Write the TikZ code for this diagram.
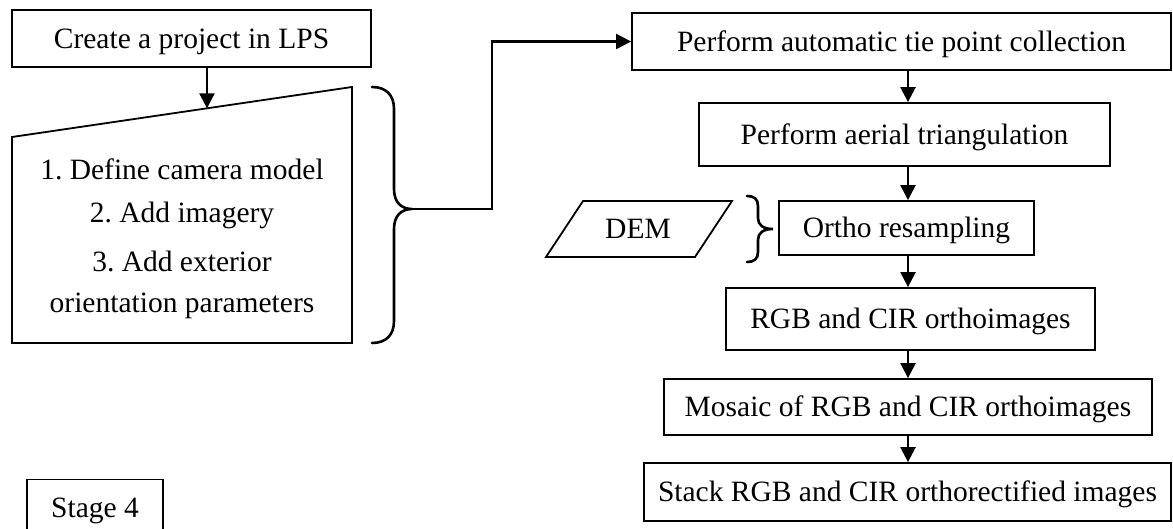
\documentclass[tikz,border=0pt]{standalone}
\usepackage{fontspec}
\setmainfont{Liberation Serif}
\usetikzlibrary{arrows.meta,calc}
\frenchspacing

\tikzset{
  every node/.style={font=\fontsize{29.5bp}{34bp}\selectfont},
  stepbox/.style={draw, line width=1.8bp, rectangle, inner sep=0pt,
                  text height=19.5bp, text depth=0pt, align=center},
  outline/.style={draw, line width=1.8bp, line join=miter},
  bracket/.style={draw, line width=2.6bp, line cap=round},
  arr/.style={line width=2.4bp, -{Triangle[length=15bp,width=15bp]}},
  label/.style={inner sep=0pt, anchor=base}
}

\begin{document}
\begin{tikzpicture}[x=1bp, y=-1bp]
  \useasboundingbox (0,0) rectangle (1173,529);
  \fill[white] (0,0) rectangle (1173,529);
  \clip (0,0) rectangle (1173,529);

  % --- left column: project set-up ---
  \node[stepbox, minimum width=359bp, minimum height=57bp] (create) at (191.5,38.5) {Create a project in LPS};

  % manual input block (slanted top)
  \coordinate (mi-tl) at (12,137);
  \coordinate (mi-tr) at (352,87);
  \coordinate (mi-br) at (352,343);
  \coordinate (mi-bl) at (12,343);
  \draw[outline] (mi-tl) -- (mi-tr) -- (mi-br) -- (mi-bl) -- cycle;
  \coordinate (mi-in) at ($(mi-tl)!0.5735!(mi-tr)$);

  \node[label] (s1) at (182,180) {1. Define camera model};
  \node[label] (s2) at (182,223) {2. Add imagery};
  \node[label] (s3) at (182,272) {3. Add exterior};
  \node[label] (s4) at (182,313) {orientation parameters};

  \draw[arr] (create.south -| mi-in) -- (mi-in);

  % large right brace
  \coordinate (btip) at (412,209);
  \draw[bracket] (372,87) .. controls (386,87) and (394,95) .. (394,109)
    -- (394,189) .. controls (394,202) and (401,209) .. (btip)
    .. controls (401,209) and (394,216) .. (394,229)
    -- (394,321) .. controls (394,335) and (386,343) .. (372,343);

  % --- right column: processing chain ---
  \node[stepbox, minimum width=539bp, minimum height=57bp] (tie) at (901.5,41.5) {Perform automatic tie point collection};
  \node[stepbox, minimum width=411bp, minimum height=63bp] (aerial) at (904.5,134.5) {Perform aerial triangulation};
  \node[stepbox, minimum width=255bp, minimum height=54bp] (ortho) at (906.5,228) {Ortho resampling};
  \node[stepbox, minimum width=369bp, minimum height=62bp] (rgb) at (910.5,319) {RGB and CIR orthoimages};
  \node[stepbox, minimum width=488bp, minimum height=56bp] (mosaic) at (908,407) {Mosaic of RGB and CIR orthoimages};
  \node[stepbox, minimum width=527bp, minimum height=58bp] (stack) at (907.5,492) {Stack RGB and CIR orthorectified images};

  \draw[arr] (btip) -- (492,209) |- (tie.west);

  \coordinate (col) at (908,0);
  \draw[arr] (tie.south -| col) -- (aerial.north -| col);
  \draw[arr] (aerial.south -| col) -- (ortho.north -| col);
  \draw[arr] (ortho.south -| col) -- (rgb.north -| col);
  \draw[arr] (rgb.south -| col) -- (mosaic.north -| col);
  \draw[arr] (mosaic.south -| col) -- (stack.north -| col);

  % DEM input and its brace
  \draw[outline] (583,201) -- (732,201) -- (695,257) -- (546,257) -- cycle;
  \node[inner sep=0pt, text height=19.5bp, text depth=0pt] (dem) at (638,229) {DEM};
  \draw[bracket] (747,196) .. controls (754,196) and (758,199) .. (758,206)
    -- (758,218) .. controls (758,225) and (763,229) .. (773,229)
    .. controls (763,229) and (758,233) .. (758,240)
    -- (758,252) .. controls (758,259) and (754,262) .. (747,262);

  % stage label
  \node[stepbox, minimum width=136bp, minimum height=56bp] (stage) at (95,507.5) {Stage 4};
\end{tikzpicture}
\end{document}
